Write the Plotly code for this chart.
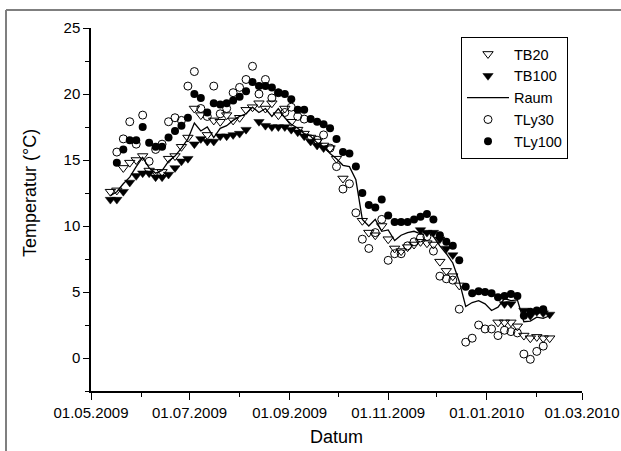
import plotly.graph_objects as go

dates = [
    "2009-05-13", "2009-05-17", "2009-05-21", "2009-05-25", "2009-05-29",
    "2009-06-02", "2009-06-06", "2009-06-10", "2009-06-14", "2009-06-18",
    "2009-06-22", "2009-06-26", "2009-06-30", "2009-07-04", "2009-07-08",
    "2009-07-12", "2009-07-16", "2009-07-20", "2009-07-24", "2009-07-28",
    "2009-08-01", "2009-08-05", "2009-08-09", "2009-08-13", "2009-08-17",
    "2009-08-21", "2009-08-25", "2009-08-29", "2009-09-02", "2009-09-06",
    "2009-09-10", "2009-09-14", "2009-09-18", "2009-09-22", "2009-09-26",
    "2009-09-30", "2009-10-04", "2009-10-08", "2009-10-12", "2009-10-16",
    "2009-10-20", "2009-10-24", "2009-10-28", "2009-11-01", "2009-11-05",
    "2009-11-09", "2009-11-13", "2009-11-17", "2009-11-21", "2009-11-25",
    "2009-11-29", "2009-12-03", "2009-12-07", "2009-12-11", "2009-12-15",
    "2009-12-19", "2009-12-23", "2009-12-27", "2009-12-31", "2010-01-04",
    "2010-01-08", "2010-01-12", "2010-01-16", "2010-01-20", "2010-01-24",
    "2010-01-28", "2010-02-01", "2010-02-05", "2010-02-09",
]

tb20 = [
    12.6, 12.7, 14.4, 14.8, 15.0, 15.3, 14.2, 14.1, 14.1, 15.1,
    15.3, 16.0, 16.7, 18.9, 18.4, 16.9, 18.0, 17.9, 18.4, 18.0,
    18.2, 18.8, 19.0, 19.3, 18.9, 19.3, 18.4, 18.9, 17.9, 17.3,
    17.0, 16.7, 16.4, 16.1, 15.9, 15.1, 13.6, None, None, 10.4,
    9.5, 9.3, 10.0, 9.0, 8.3, 8.1, 8.4, 8.6, 8.8, 8.7,
    8.6, 7.3, 6.6, 6.2, 5.5, None, None, None, None, None,
    2.7, 2.7, 2.7, 2.4, 1.7, 1.5, 1.6, 1.5, 1.5,
]

tb100 = [
    12.0, 12.0, 12.6, 13.3, 13.8, 14.0, 14.0, 13.7, 13.7, 13.9,
    14.4, 14.9, 15.1, 16.2, 16.6, 16.4, 16.4, 16.8, 16.8, 16.9,
    17.0, 17.3, None, 17.9, 17.6, 17.5, 17.5, 17.5, 17.3, 17.1,
    16.8, 16.4, 16.1, 15.9, None, None, None, None, None, None,
    None, None, None, None, None, None, None, None, 9.7, 9.5,
    9.5, 9.0, 8.3, 7.8, None, None, None, None, None, None,
    None, 4.1, 4.1, None, 3.6, 3.2, 3.5, 3.4, 3.3,
]

raum = [
    12.3, 12.6, 13.2, 13.7, 14.5, 15.2, 14.4, 14.0, 14.2, 14.9,
    15.3, 15.9, 16.6, 17.8, 17.2, 17.5, 16.7, 17.4, 17.6, 18.0,
    18.3, 18.5, 19.0, 18.6, 18.9, 18.3, 18.9, 18.2, 17.7, 17.4,
    17.0, 16.8, 16.3, 16.0, 15.5, 15.1, 14.6, 14.5, 13.5, 10.5,
    10.0, 10.5, 9.6, 9.7, 8.9, 9.3, 9.5, 9.6, 9.4, 9.6,
    9.2, 8.5, 7.9, 7.2, 5.8, 3.9, 4.2, 4.35, 4.1, 3.6,
    3.85, 4.5, 4.35, 4.4, 2.75, 2.8, 3.1, 3.0, 3.2,
]

tly30 = [
    None, 15.6, 16.6, 17.9, 16.2, 18.4, 14.9, 15.8, 16.2, 17.9,
    18.2, 18.0, 20.6, 21.7, 18.9, 18.3, 20.6, 18.5, 18.9, 20.1,
    20.5, 21.1, 22.1, 20.0, 21.1, 19.7, 20.1, 18.6, 19.0, 18.3,
    18.1, 16.6, 16.5, 16.9, 15.9, 14.5, 12.8, 13.2, 11.0, 9.0,
    8.3, 9.5, 10.5, 7.4, 7.9, 7.9, 8.5, 8.8, 9.1, 9.2,
    8.1, 6.2, 6.0, 5.9, 3.7, 1.2, 1.5, 2.5, 2.2, 2.2,
    1.7, 2.1, 2.0, 1.9, 0.3, -0.1, 0.5, 0.9, None,
]

tly100 = [
    None, 14.8, 15.8, 16.5, 16.5, 17.5, 16.3, 16.0, 16.0, 16.7,
    17.2, 17.6, 18.2, 20.0, 19.7, 18.6, 19.3, 19.2, 19.3, 19.5,
    19.8, 20.2, 20.9, 20.6, 20.6, 20.5, 20.1, 20.0, 19.6, 18.8,
    18.8, 18.1, 17.9, 17.7, 17.4, 16.6, 15.6, 15.5, 14.5, 12.5,
    11.6, 11.4, 12.0, 10.8, 10.3, 10.3, 10.3, 10.5, 10.7, 10.9,
    10.5, 9.3, 8.8, 8.5, 7.4, 5.4, 4.9, 5.05, 5.0, 4.9,
    4.6, 4.7, 4.85, 4.7, 3.2, 3.5, 3.6, 3.7, None,
]

x_ticks = ["2009-05-01", "2009-07-01", "2009-09-01", "2009-11-01", "2010-01-01", "2010-03-01"]
x_labels = ["01.05.2009", "01.07.2009", "01.09.2009", "01.11.2009", "01.01.2010", "01.03.2010"]
y_ticks = [0, 5, 10, 15, 20, 25]

FONT = "Arial, Liberation Sans, sans-serif"

fig = go.Figure()
fig.add_trace(go.Scatter(x=dates, y=tb20, mode="markers", name="TB20",
                         marker=dict(symbol="triangle-down-open", size=9, color="black",
                                     line=dict(width=1, color="black"))))
fig.add_trace(go.Scatter(x=dates, y=tb100, mode="markers", name="TB100",
                         marker=dict(symbol="triangle-down", size=9, color="black",
                                     line=dict(width=0.5, color="black"))))
fig.add_trace(go.Scatter(x=dates, y=raum, mode="lines", name="Raum",
                         line=dict(color="black", width=1.3)))
fig.add_trace(go.Scatter(x=dates, y=tly30, mode="markers", name="TLy30",
                         marker=dict(symbol="circle-open", size=8, color="black",
                                     line=dict(width=1, color="black"))))
fig.add_trace(go.Scatter(x=dates, y=tly100, mode="markers", name="TLy100",
                         marker=dict(symbol="circle", size=8, color="black")))

L, R, T, B = 91, 39, 28, 60
W, H = 621, 451
pw, ph = W - L - R, H - T - B

def px(xp):
    return (xp - L) / pw

def py(yp):
    return (H - B - yp) / ph

fig.update_layout(
    width=W, height=H,
    margin=dict(l=L, r=R, t=T, b=B, pad=0, autoexpand=False),
    paper_bgcolor="white", plot_bgcolor="white",
    font=dict(family=FONT, size=12, color="black"),
    showlegend=True,
    legend=dict(x=px(461), y=py(37), xanchor="left", yanchor="top",
                bordercolor="black", borderwidth=1, bgcolor="white",
                font=dict(family=FONT, size=14.5, color="black"),
                tracegroupgap=0, itemwidth=42),
    xaxis=dict(
        type="date", range=["2009-05-01", "2010-03-01"], automargin=False,
        tickmode="array", tickvals=x_ticks, ticktext=x_labels,
        ticks="outside", ticklen=7, tickwidth=1.3, tickcolor="black",
        showline=True, linecolor="black", linewidth=1.5,
        showgrid=False, zeroline=False,
        tickfont=dict(family=FONT, size=15),
        minor=dict(dtick="M1", tick0="2009-05-01", ticks="outside", ticklen=4,
                   tickwidth=1.3, tickcolor="black", showgrid=False),
    ),
    yaxis=dict(
        range=[-2.5, 25], automargin=False,
        tickmode="array", tickvals=y_ticks,
        ticks="outside", ticklen=6, tickwidth=1.3, tickcolor="black",
        showline=True, linecolor="black", linewidth=1.5,
        showgrid=False, zeroline=False,
        tickfont=dict(family=FONT, size=15),
        minor=dict(dtick=2.5, tick0=0, ticks="outside", ticklen=4,
                   tickwidth=1.3, tickcolor="black", showgrid=False),
    ),
    annotations=[
        dict(text="Datum", xref="paper", yref="paper", x=0.5, y=py(437),
             xanchor="center", yanchor="middle", showarrow=False,
             font=dict(family=FONT, size=18)),
        dict(text="Temperatur (°C)", xref="paper", yref="y", x=px(30), y=12.5,
             xanchor="center", yanchor="middle", textangle=-90, showarrow=False,
             font=dict(family=FONT, size=18)),
    ],
    shapes=[
        dict(type="line", xref="paper", yref="paper", x0=px(6), x1=px(621), y0=py(10), y1=py(10),
             line=dict(color="#7f7f7f", width=2)),
        dict(type="line", xref="paper", yref="paper", x0=px(6), x1=px(6), y0=py(10), y1=py(451),
             line=dict(color="#7f7f7f", width=2)),
    ],
)

fig.write_html("out.html", config={"displayModeBar": False},
               post_script="document.body.style.margin='0';document.body.style.overflow='hidden';")
